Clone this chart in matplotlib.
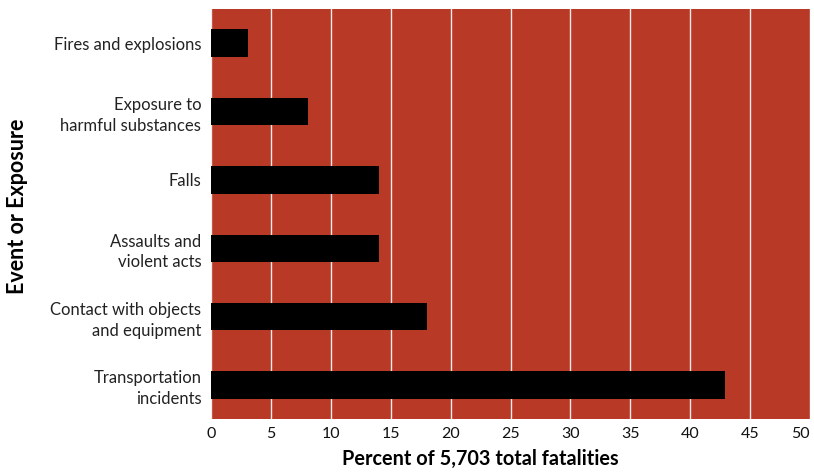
import matplotlib.pyplot as plt

# ---------------------------
# DATA
# ---------------------------
categories = [
    "Fires and explosions",
    "Exposure to\nharmful substances",
    "Falls",
    "Assaults and\nviolent acts",
    "Contact with objects\nand equipment",
    "Transportation\nincidents",
]
percent = [3.1, 8.1, 14.0, 14.0, 18.0, 42.9]
xticks = [0, 5, 10, 15, 20, 25, 30, 35, 40, 45, 50]

BG = "#B73926"

plt.rcParams["font.family"] = ["Lato", "DejaVu Sans"]

fig = plt.figure(figsize=(8.14, 4.72), dpi=100)
ax = fig.add_axes([0.2592, 0.112, 0.7359, 0.869])
ax.set_facecolor(BG)

ypos = list(range(len(categories)))
ax.barh(ypos, percent, height=0.4, color="black", zorder=3)

ax.set_xlim(0, 50)
ax.set_ylim(len(categories) - 0.5, -0.5)
ax.set_xticks(xticks)
ax.set_yticks(ypos)
ax.set_yticklabels(categories, fontsize=12, color="#222222", linespacing=1.35)
ax.tick_params(axis="x", labelsize=11.5, length=0, pad=6, colors="#111111")
ax.tick_params(axis="y", length=0, pad=7)
ax.get_xticklabels()[-1].set_horizontalalignment("right")

ax.grid(axis="x", color="white", linewidth=1.0, alpha=0.9, zorder=1)
ax.set_axisbelow(True)
for s in ax.spines.values():
    s.set_visible(False)

ax.set_xlabel("Percent of 5,703 total fatalities", fontsize=14.3, fontweight="bold")
ax.xaxis.set_label_coords(0.449, -0.073)
ax.set_ylabel("Event or Exposure", fontsize=15.5, fontweight="bold")
ax.yaxis.set_label_coords(-0.306, 0.52)

fig.savefig("out.png", dpi=100)
